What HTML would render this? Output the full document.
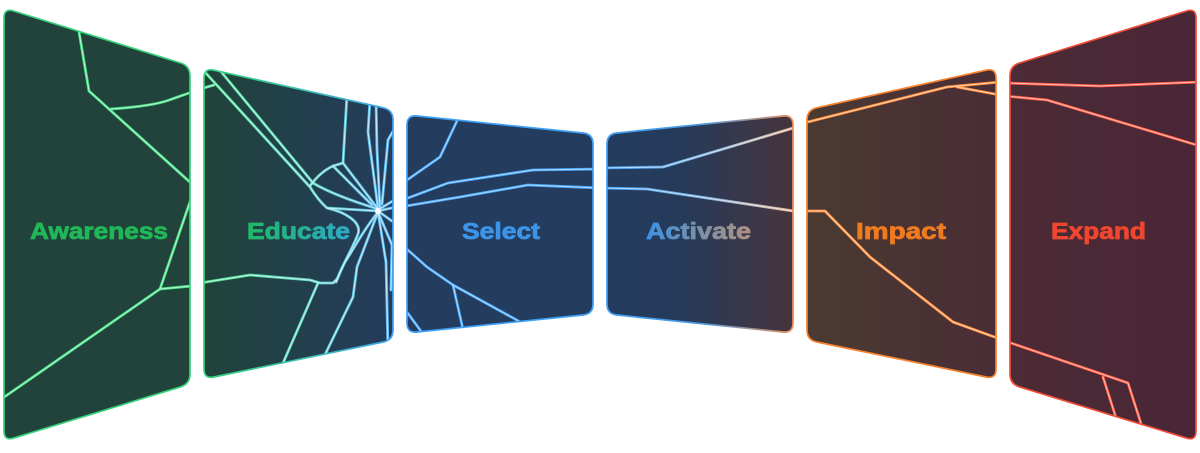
<!DOCTYPE html>
<html>
<head>
<meta charset="utf-8">
<style>
  html,body{margin:0;padding:0;background:#ffffff;}
  svg{display:block;}
  text{font-family:"Liberation Sans",Arial,sans-serif;font-weight:bold;font-size:23.5px;stroke-width:0.8px;stroke-linejoin:round;}
</style>
</head>
<body>
<svg width="1200" height="453" viewBox="0 0 1200 453" xmlns="http://www.w3.org/2000/svg">
  <defs>
    <linearGradient id="f2" gradientUnits="userSpaceOnUse" x1="204" y1="0" x2="393" y2="0">
      <stop offset="0" stop-color="#21433a"/>
      <stop offset="1" stop-color="#243c5d"/>
    </linearGradient>
    <linearGradient id="s2" gradientUnits="userSpaceOnUse" x1="204" y1="0" x2="393" y2="0">
      <stop offset="0" stop-color="#35d27a"/>
      <stop offset="0.55" stop-color="#3cc0b0"/>
      <stop offset="1" stop-color="#3da0f2"/>
    </linearGradient>
    <linearGradient id="c2" gradientUnits="userSpaceOnUse" x1="204" y1="0" x2="393" y2="0">
      <stop offset="0" stop-color="#4de08a"/>
      <stop offset="0.5" stop-color="#5cd6c0"/>
      <stop offset="1" stop-color="#62b8f5"/>
    </linearGradient>
    <linearGradient id="t2" gradientUnits="userSpaceOnUse" x1="247" y1="0" x2="350" y2="0">
      <stop offset="0" stop-color="#1fb866"/>
      <stop offset="1" stop-color="#2fa8c6"/>
    </linearGradient>
    <linearGradient id="f4" gradientUnits="userSpaceOnUse" x1="607" y1="0" x2="793" y2="0">
      <stop offset="0" stop-color="#243c5e"/>
      <stop offset="0.4" stop-color="#263b5a"/>
      <stop offset="1" stop-color="#47343e"/>
    </linearGradient>
    <linearGradient id="s4" gradientUnits="userSpaceOnUse" x1="607" y1="0" x2="793" y2="0">
      <stop offset="0" stop-color="#3d9ef5"/>
      <stop offset="0.5" stop-color="#4a98e0"/>
      <stop offset="1" stop-color="#e8905a"/>
    </linearGradient>
    <linearGradient id="c4" gradientUnits="userSpaceOnUse" x1="607" y1="0" x2="800" y2="0">
      <stop offset="0" stop-color="#3d9ef5"/>
      <stop offset="0.5" stop-color="#7ab0e0"/>
      <stop offset="1" stop-color="#f0b890"/>
    </linearGradient>
    <linearGradient id="t4" gradientUnits="userSpaceOnUse" x1="646" y1="0" x2="751" y2="0">
      <stop offset="0" stop-color="#3b91e8"/>
      <stop offset="0.5" stop-color="#7a90a8"/>
      <stop offset="1" stop-color="#b08f80"/>
    </linearGradient>
    <linearGradient id="f5" gradientUnits="userSpaceOnUse" x1="807" y1="0" x2="996" y2="0">
      <stop offset="0" stop-color="#4a3a31"/>
      <stop offset="1" stop-color="#4a2d36"/>
    </linearGradient>
    <linearGradient id="f6" gradientUnits="userSpaceOnUse" x1="1010" y1="0" x2="1196" y2="0">
      <stop offset="0" stop-color="#4b2b36"/>
      <stop offset="1" stop-color="#4a2636"/>
    </linearGradient>

    <clipPath id="k1"><path d="M13.5,11 L180.5,63 Q190,66 190,76 L190,374 Q190,384 180.4,386.9 L13.6,438.1 Q4,441 4,431 L4,18 Q4,8 13.5,11 Z"/></clipPath>
    <clipPath id="k2"><path d="M213.8,70.2 L383.2,107.8 Q393,110 393,120 L393,330 Q393,340 383.2,342 L213.8,377 Q204,379 204,369 L204,78 Q204,68 213.8,70.2 Z"/></clipPath>
    <clipPath id="k3"><path d="M417,116 L583,133 Q593,134 593,144 L593,304 Q593,314 583,315 L417,332 Q407,333 407,323 L407,125 Q407,115 417,116 Z"/></clipPath>
    <clipPath id="k4"><path d="M617,133 L783,116 Q793,115 793,125 L793,323 Q793,333 783,332 L617,315 Q607,314 607,304 L607,144 Q607,134 617,133 Z"/></clipPath>
    <clipPath id="k5"><path d="M816.8,107.8 L986.2,70.2 Q996,68 996,78 L996,369 Q996,379 986.2,377 L816.8,342 Q807,340 807,330 L807,120 Q807,110 816.8,107.8 Z"/></clipPath>
    <clipPath id="k6"><path d="M1019.5,63 L1186.5,11 Q1196,8 1196,18 L1196,431 Q1196,441 1186.4,438.1 L1019.6,386.9 Q1010,384 1010,374 L1010,76 Q1010,66 1019.5,63 Z"/></clipPath>

    <g id="cr1" fill="none" stroke-linejoin="round" stroke-linecap="round">
      <path d="M77,20 L89,91 L192,184"/>
      <path d="M111,109 C140,107 160,104 172,99 L192,92"/>
      <path d="M192,196 L160,289 L192,286"/>
      <path d="M160,289 L0,400"/>
    </g>
    <g id="cr2" fill="none" stroke-linejoin="round" stroke-linecap="round">
      <path d="M200,89 L214,85"/>
      <path d="M203,70 L310,187 Q318,200 327,208 L378,211"/>
      <path d="M218,68 L313,183 Q335,196 378,209"/>
      <path d="M310,186 Q320,172 333,166 L343,163"/>
      <path d="M343,163 L347,95"/>
      <path d="M343,163 L378,209"/>
      <path d="M333,166 L372,205"/>
      <path d="M370,100 L368,132 L378,208"/>
      <path d="M376,100 L377,150 L380,208"/>
      <path d="M396,126 L388,140 L382,204"/>
      <path d="M378,210 L396,199"/>
      <path d="M378,211 L396,207"/>
      <path d="M378,211 L396,224"/>
      <path d="M327,208 C345,212 362,222 358,234 C352,250 342,265 336,282"/>
      <path d="M378,212 C362,232 352,252 345,262 C340,272 338,278 336,282"/>
      <path d="M200,283 L250,275 L310,280 L320,283 L333,283 L337,279"/>
      <path d="M318,283 L280,370"/>
      <path d="M378,212 L357,267 L353,297 L320,365"/>
      <path d="M378,212 L386,262 L388,350"/>
      <path d="M378,212 L392,245 L391,290"/>
    </g>
    <g id="cr3" fill="none" stroke-linejoin="round" stroke-linecap="round">
      <path d="M464,106 L440,157 L400,185"/>
      <path d="M400,201 L448,183 L533,170 L600,169"/>
      <path d="M400,207 L460,197 L528,185 L600,188"/>
      <path d="M400,243 L427,267 L453,285 L524,324"/>
      <path d="M453,285 L464,334"/>
      <path d="M404,308 L426,338"/>
    </g>
    <g id="cr4" fill="none" stroke-linejoin="round" stroke-linecap="round">
      <path d="M600,168 L663,167 L800,126"/>
      <path d="M600,188 L647,189 L800,212"/>
    </g>
    <g id="cr5" fill="none" stroke-linejoin="round" stroke-linecap="round">
      <path d="M800,124 L947,87 L1000,82"/>
      <path d="M957,87 L1000,95"/>
      <path d="M800,211 L825,211 L870,257 L953,322 L1000,339"/>
    </g>
    <g id="cr6" fill="none" stroke-linejoin="round" stroke-linecap="round">
      <path d="M1005,83 L1100,86 L1200,82"/>
      <path d="M1005,96 L1047,100 L1200,146"/>
      <path d="M1005,341 L1128,383 L1145,436"/>
      <path d="M1103,377 L1118,424"/>
    </g>
  </defs>

  <rect x="0" y="0" width="1200" height="453" fill="#ffffff"/>

  <!-- Panel 1 Awareness -->
  <path d="M13.5,11 L180.5,63 Q190,66 190,76 L190,374 Q190,384 180.4,386.9 L13.6,438.1 Q4,441 4,431 L4,18 Q4,8 13.5,11 Z" fill="#21433b"/>
  <g clip-path="url(#k1)">
    <use href="#cr1" stroke="#45dc84" stroke-width="2.8"/>
    <use href="#cr1" stroke="#e0ffea" stroke-width="1" stroke-opacity="0.7"/>
  </g>
  <path d="M13.5,11 L180.5,63 Q190,66 190,76 L190,374 Q190,384 180.4,386.9 L13.6,438.1 Q4,441 4,431 L4,18 Q4,8 13.5,11 Z" fill="none" stroke="#35d27a" stroke-width="1.7"/>
  <text x="30" y="239" fill="#20b758" stroke="#20b758" textLength="138" lengthAdjust="spacingAndGlyphs">Awareness</text>

  <!-- Panel 2 Educate -->
  <path d="M213.8,70.2 L383.2,107.8 Q393,110 393,120 L393,330 Q393,340 383.2,342 L213.8,377 Q204,379 204,369 L204,78 Q204,68 213.8,70.2 Z" fill="url(#f2)"/>
  <g clip-path="url(#k2)">
    <use href="#cr2" stroke="url(#c2)" stroke-width="2.8"/>
    <use href="#cr2" stroke="#eefcff" stroke-width="1" stroke-opacity="0.7"/>
    <circle cx="378" cy="211" r="3" fill="#ffffff"/>
  </g>
  <path d="M213.8,70.2 L383.2,107.8 Q393,110 393,120 L393,330 Q393,340 383.2,342 L213.8,377 Q204,379 204,369 L204,78 Q204,68 213.8,70.2 Z" fill="none" stroke="url(#s2)" stroke-width="1.7"/>
  <text x="247" y="239" fill="url(#t2)" stroke="url(#t2)" textLength="103" lengthAdjust="spacingAndGlyphs">Educate</text>

  <!-- Panel 3 Select -->
  <path d="M417,116 L583,133 Q593,134 593,144 L593,304 Q593,314 583,315 L417,332 Q407,333 407,323 L407,125 Q407,115 417,116 Z" fill="#243c5e"/>
  <g clip-path="url(#k3)">
    <use href="#cr3" stroke="#47a6fb" stroke-width="2.8"/>
    <use href="#cr3" stroke="#e8f4ff" stroke-width="1" stroke-opacity="0.65"/>
  </g>
  <path d="M417,116 L583,133 Q593,134 593,144 L593,304 Q593,314 583,315 L417,332 Q407,333 407,323 L407,125 Q407,115 417,116 Z" fill="none" stroke="#3d9ef5" stroke-width="1.7"/>
  <text x="462" y="239" fill="#3b94e8" stroke="#3b94e8" textLength="78" lengthAdjust="spacingAndGlyphs">Select</text>

  <!-- Panel 4 Activate -->
  <path d="M617,133 L783,116 Q793,115 793,125 L793,323 Q793,333 783,332 L617,315 Q607,314 607,304 L607,144 Q607,134 617,133 Z" fill="url(#f4)"/>
  <g clip-path="url(#k4)">
    <use href="#cr4" stroke="url(#c4)" stroke-width="2.8"/>
    <use href="#cr4" stroke="#ffffff" stroke-width="1" stroke-opacity="0.6"/>
  </g>
  <path d="M617,133 L783,116 Q793,115 793,125 L793,323 Q793,333 783,332 L617,315 Q607,314 607,304 L607,144 Q607,134 617,133 Z" fill="none" stroke="url(#s4)" stroke-width="1.7"/>
  <text x="646" y="239" fill="url(#t4)" stroke="url(#t4)" textLength="105" lengthAdjust="spacingAndGlyphs">Activate</text>

  <!-- Panel 5 Impact -->
  <path d="M816.8,107.8 L986.2,70.2 Q996,68 996,78 L996,369 Q996,379 986.2,377 L816.8,342 Q807,340 807,330 L807,120 Q807,110 816.8,107.8 Z" fill="url(#f5)"/>
  <g clip-path="url(#k5)">
    <use href="#cr5" stroke="#ff8a38" stroke-width="2.8"/>
    <use href="#cr5" stroke="#fff2e4" stroke-width="1" stroke-opacity="0.7"/>
  </g>
  <path d="M816.8,107.8 L986.2,70.2 Q996,68 996,78 L996,369 Q996,379 986.2,377 L816.8,342 Q807,340 807,330 L807,120 Q807,110 816.8,107.8 Z" fill="none" stroke="#f5812e" stroke-width="1.7"/>
  <text x="856" y="239" fill="#f07a1e" stroke="#f07a1e" textLength="90" lengthAdjust="spacingAndGlyphs">Impact</text>

  <!-- Panel 6 Expand -->
  <path d="M1019.5,63 L1186.5,11 Q1196,8 1196,18 L1196,431 Q1196,441 1186.4,438.1 L1019.6,386.9 Q1010,384 1010,374 L1010,76 Q1010,66 1019.5,63 Z" fill="url(#f6)"/>
  <g clip-path="url(#k6)">
    <use href="#cr6" stroke="#ff5a44" stroke-width="2.8"/>
    <use href="#cr6" stroke="#ffeae4" stroke-width="1" stroke-opacity="0.7"/>
  </g>
  <path d="M1019.5,63 L1186.5,11 Q1196,8 1196,18 L1196,431 Q1196,441 1186.4,438.1 L1019.6,386.9 Q1010,384 1010,374 L1010,76 Q1010,66 1019.5,63 Z" fill="none" stroke="#f24b38" stroke-width="1.7"/>
  <text x="1051" y="239" fill="#ef4630" stroke="#ef4630" textLength="95" lengthAdjust="spacingAndGlyphs">Expand</text>
</svg>
</body>
</html>
